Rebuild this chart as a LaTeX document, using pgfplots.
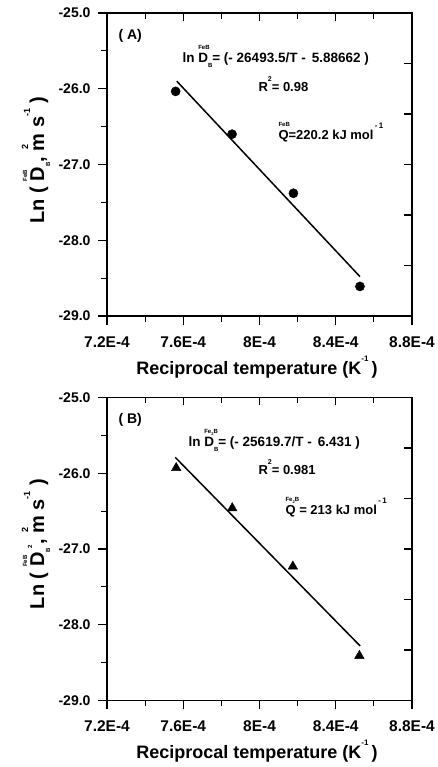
\documentclass[border=0pt]{standalone}
\usepackage{fontspec}
\setmainfont{Liberation Sans}
\usepackage{pgfplots}
\pgfplotsset{compat=1.18}
\newcommand{\fs}[1]{\fontsize{#1}{#1}\selectfont}
\newcommand{\up}[2]{\makebox[0pt][l]{\raisebox{#1}{\fs{6}#2}}}
\newcommand{\dn}[2]{\raisebox{#1}{\fs{6}#2}}
\pgfplotsset{
 panel/.style={
  scale only axis, width=305pt, height=303pt,
  xmin=7.2,xmax=8.8,ymin=-29,ymax=-25,
  axis line style={line width=1.4pt},
  every tick/.style={black, line width=1.2pt},
 },
 mainax/.style={panel,
  xtick={7.2,7.6,8.0,8.4,8.8}, xticklabels={7.2E-4,7.6E-4,8E-4,8.4E-4,8.8E-4},
  minor xtick={7.4,7.8,8.2,8.6},
  ytick={-29,-28,-27,-26,-25}, yticklabels={-29.0,-28.0,-27.0,-26.0,-25.0},
  minor ytick={-28.5,-27.5,-26.5,-25.5},
  xtick pos=left, ytick pos=left, tick align=outside,
  major tick length=9pt, minor tick length=6pt,
  xticklabel style={font=\fs{15.5}\bfseries, yshift=-8pt},
  yticklabel style={font=\fs{14}\bfseries, xshift=-4pt},
 },
 overax/.style={panel,
  xtick={7.6,8.0,8.4}, minor xtick={7.4,7.8,8.2,8.6}, xticklabels={},
  ytick={-28.3333,-27.6667,-27,-26.3333,-25.6667}, yticklabels={},
  xtick pos=right, ytick pos=right, tick align=inside,
  major tick length=8pt, minor tick length=6pt,
 },
}
\begin{document}
\begin{tikzpicture}[x=1pt,y=1pt]
%% ---------------- Panel A ----------------
\begin{axis}[mainax, at={(107pt,451pt)}, anchor=south west]
\addplot[only marks, mark=*, mark size=4.6pt, black] coordinates {
 (7.560,-26.035) (7.856,-26.60) (8.178,-27.38) (8.527,-28.61)};
\addplot[black, line width=1.5pt] coordinates {(7.566,-25.90) (8.527,-28.48)};
\end{axis}
\begin{axis}[overax, at={(107pt,451pt)}, anchor=south west]
\end{axis}
\node[anchor=base west] at (115,727) {\fs{14}\bfseries ( A)};
\node[anchor=base west] at (179,704) {\fs{13.5}\bfseries ln \up{13pt}{FeB}D\dn{-5pt}{B}= (- 26493.5/T - \,5.88662 )};
\node[anchor=base west] at (255,675) {\fs{13}\bfseries R\raisebox{10pt}{\fs{7}2}= 0.98};
\node[anchor=base west] at (275,627) {\fs{13}\bfseries \up{13pt}{FeB}Q=220.2 kJ mol\raisebox{11pt}{\fs{8}\,-\,1}};
\node[rotate=90, anchor=base] at (44,607) {\fs{20}\bfseries Ln ( \up{17pt}{FeB}D\dn{-6pt}{B}, \makebox[0pt][l]{\raisebox{16pt}{\fs{9}\,2}}m s\raisebox{14pt}{\fs{9}-1} )};
\node[anchor=base] at (257,392) {\fs{18}\bfseries Reciprocal temperature (K\raisebox{13pt}{\fs{8}-1}\,)};
%% ---------------- Panel B ----------------
\begin{axis}[mainax, at={(107pt,66.5pt)}, anchor=south west]
\addplot[only marks, mark=triangle*, mark size=5.5pt, black] coordinates {
 (7.563,-25.93) (7.857,-26.46) (8.175,-27.23) (8.524,-28.41)};
\addplot[black, line width=1.5pt] coordinates {(7.558,-25.79) (8.528,-28.28)};
\end{axis}
\begin{axis}[overax, at={(107pt,66.5pt)}, anchor=south west]
\end{axis}
\node[anchor=base west] at (115,343) {\fs{14}\bfseries ( B)};
\node[anchor=base west] at (185,320) {\fs{13.5}\bfseries ln \up{13pt}{Fe\raisebox{-1.5pt}{\fs{4}2}B}D\dn{-5pt}{B}= (- 25619.7/T - \,6.431 )};
\node[anchor=base west] at (255,292) {\fs{13}\bfseries R\raisebox{10pt}{\fs{7}2}= 0.981};
\node[anchor=base west] at (282,252) {\fs{13}\bfseries \up{13pt}{Fe\raisebox{-1.5pt}{\fs{4}2}B}Q = 213 kJ mol\raisebox{11pt}{\fs{8}\,-\,1}};
\node[rotate=90, anchor=base] at (44,223) {\fs{20}\bfseries Ln ( \up{17pt}{FeB}D\dn{-6pt}{B}\raisebox{12pt}{\fs{6}2}, \makebox[0pt][l]{\raisebox{16pt}{\fs{9}\,2}}m s\raisebox{14pt}{\fs{9}-1} )};
\node[anchor=base] at (257,9) {\fs{18}\bfseries Reciprocal temperature (K\raisebox{13pt}{\fs{8}-1}\,)};
\pgfresetboundingbox
\path[use as bounding box] (0,0) rectangle (438,767);
\end{tikzpicture}
\end{document}
